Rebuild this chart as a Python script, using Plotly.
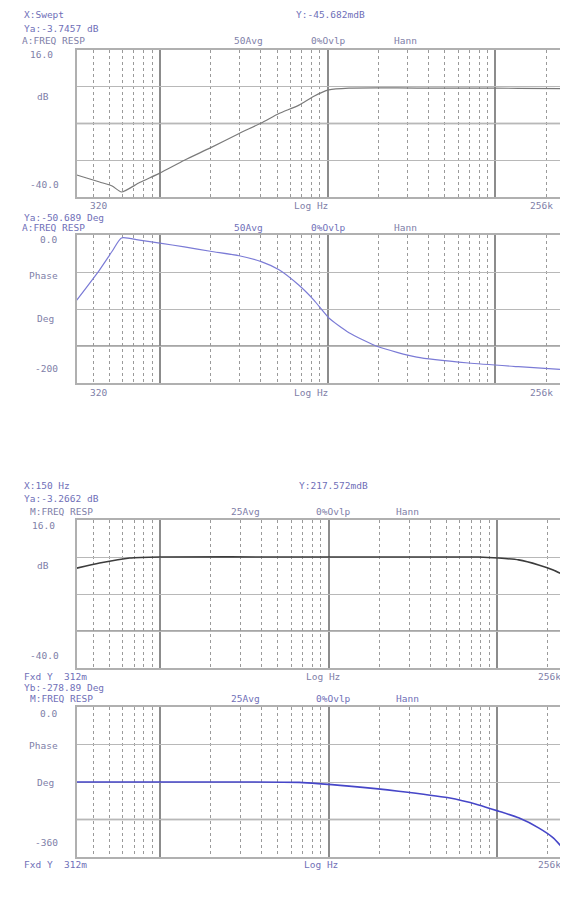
import math
import plotly.graph_objects as go

# page body has an 8 px margin; the figure is sized so the page needs no scrollbar
OFF = 8
W, H = 568 - OFF, 900 - 2 * OFF

# ---------------- data ----------------
freq_top = [320, 438, 520, 591, 757, 1000, 1400, 2000, 2970, 4020, 5130, 6750, 8280,
            10160, 13400, 20000, 34000, 69000, 137000, 256000]
mag_top_db = [-31.6, -34.3, -35.8, -38.1, -34.5, -30.9, -26.0, -21.3, -15.8, -11.8, -8.2,
              -5.0, -1.6, 0.8, 1.5, 1.6, 1.5, 1.5, 1.4, 1.3]
phase_top_deg = [-88, -47, -22, -4, -7, -11, -16, -22, -28, -36, -47, -68, -88,
                 -112, -132, -151, -165, -173, -178, -182]

freq_bot = [320, 437, 659, 1000, 6700, 13200, 26000, 51500, 77600, 102000, 134000,
            176000, 215000, 256000]
mag_bot_db = [-2.2, -0.3, 1.6, 2.0, 2.0, 2.0, 2.0, 2.0, 2.0, 1.6, 0.9, -1.0, -2.9, -5.2]
phase_bot_deg = [-180, -180, -180, -180, -181, -190, -202, -218, -235, -250, -266,
                 -290, -314, -348]

x_range_hz = [320, 256000]
decades = [1000, 10000, 100000]
minor_hz = [400, 500, 600, 700, 800, 900,
            2000, 3000, 4000, 5000, 6000, 7000, 8000, 9000,
            20000, 30000, 40000, 50000, 60000, 70000, 80000, 90000, 200000]

mag_range_db = [-40, 16]
phase_top_range = [-200, 0]
phase_bot_range = [-360, 0]

# ---------------- layout helpers (window pixel -> paper) ----------------
def px(xp):
    return (xp - OFF) / W

def py(yp):
    return 1 - (yp - OFF) / H

fig = go.Figure()

panels = [
    # (axis id, x px domain, y px domain, y range, dark grid index)
    ("1", (77, 566), (50, 197), mag_range_db, 2),
    ("2", (77, 566), (235, 383), phase_top_range, 3),
    ("3", (77, 568), (520, 668), mag_range_db, 3),
    ("4", (77, 568), (707, 857), phase_bot_range, 3),
]

series = [
    (freq_top, mag_top_db, "#7a7a7a", 1.2),
    (freq_top, phase_top_deg, "#7b7bd6", 1.2),
    (freq_bot, mag_bot_db, "#3c3c3c", 1.6),
    (freq_bot, phase_bot_deg, "#4646c8", 1.6),
]

for (aid, xd, yd, yr, dark_i), (fx, fy, col, lw) in zip(panels, series):
    xa = "x" if aid == "1" else "x" + aid
    ya = "y" if aid == "1" else "y" + aid
    fig.add_trace(go.Scatter(x=fx, y=fy, mode="lines", xaxis=xa, yaxis=ya,
                             line=dict(color=col, width=lw, shape="spline", smoothing=0.6),
                             showlegend=False, hoverinfo="skip"))
    xkey = "xaxis" if aid == "1" else "xaxis" + aid
    ykey = "yaxis" if aid == "1" else "yaxis" + aid
    step = (yr[1] - yr[0]) / 4
    yt = [yr[1] - step * k for k in range(1, 4)]   # top to bottom
    fig.update_layout(**{
        xkey: dict(type="log", range=[math.log10(x_range_hz[0]), math.log10(x_range_hz[1])],
                   domain=[px(xd[0]), min(1.0, px(xd[1]))], anchor=ya,
                   tickmode="array", tickvals=decades, showticklabels=False, ticks="",
                   showgrid=True, gridcolor="#8c8c8c", gridwidth=1.6,
                   minor=dict(tickmode="array", tickvals=minor_hz, showgrid=True,
                              gridcolor="#9a9a9a", griddash="dot", gridwidth=1, ticks=""),
                   showline=True, mirror=True, linecolor="#b0b0b0", linewidth=1.5,
                   zeroline=False, fixedrange=True),
        ykey: dict(range=yr, domain=[py(yd[1]), py(yd[0])], anchor=xa,
                   tickmode="array", tickvals=yt, showticklabels=False, ticks="",
                   showgrid=True, gridcolor="#b8b8b8", gridwidth=1,
                   showline=True, mirror=True, linecolor="#b0b0b0", linewidth=1.5,
                   zeroline=False, fixedrange=True),
    })
    # darker reference gridline
    fig.add_shape(type="line", xref="paper", yref=ya, x0=px(xd[0]), x1=min(1.0, px(xd[1])),
                  y0=yt[dark_i - 1], y1=yt[dark_i - 1],
                  line=dict(color="#8a8a8a", width=1.5), layer="below")

HDR = "#6f6fb8"
LBL = "#8080a8"
texts = [
    # panel 1
    ("X:Swept", 22, 15, HDR), ("Ya:-3.7457 dB", 22, 28, HDR), ("Y:-45.682mdB", 295, 15, HDR),
    ("A:FREQ RESP", 20, 41, LBL), ("50Avg", 233, 41, LBL), ("0%Ovlp", 310, 41, LBL),
    ("Hann", 393, 41, LBL),
    ("16.0", 28, 54, LBL), ("dB", 35, 97, LBL), ("-40.0", 28, 185, LBL),
    ("320", 88, 205, LBL), ("Log Hz", 293, 205, LBL), ("256k", 530, 205, LBL),
    # panel 2
    ("Ya:-50.689 Deg", 22, 217, HDR), ("A:FREQ RESP", 20, 227, HDR),
    ("50Avg", 233, 227, HDR), ("0%Ovlp", 310, 227, HDR), ("Hann", 393, 227, LBL),
    ("0.0", 38, 240, LBL), ("Phase", 27, 275, LBL), ("Deg", 35, 318, LBL), ("-200", 33, 368, LBL),
    ("320", 88, 392, LBL), ("Log Hz", 293, 392, LBL), ("256k", 530, 392, LBL),
    # panel 3
    ("X:150 Hz", 22, 485, HDR), ("Ya:-3.2662 dB", 22, 498, HDR), ("Y:217.572mdB", 298, 485, HDR),
    ("M:FREQ RESP", 28, 511, LBL), ("25Avg", 230, 511, LBL), ("0%Ovlp", 315, 511, LBL),
    ("Hann", 395, 511, LBL),
    ("16.0", 30, 525, LBL), ("dB", 35, 565, LBL), ("-40.0", 28, 655, LBL),
    ("Fxd Y  312m", 22, 676, HDR), ("Log Hz", 305, 676, LBL), ("256k", 538, 676, LBL),
    # panel 4
    ("Yb:-278.89 Deg", 22, 687, HDR), ("M:FREQ RESP", 28, 698, HDR), ("25Avg", 230, 698, HDR),
    ("0%Ovlp", 315, 698, HDR), ("Hann", 395, 698, HDR),
    ("0.0", 38, 713, LBL), ("Phase", 27, 745, LBL), ("Deg", 35, 782, LBL), ("-360", 33, 842, LBL),
    ("Fxd Y  312m", 22, 864, HDR), ("Log Hz", 303, 864, HDR), ("256k", 538, 864, LBL),
]
for t, xx, yy, c in texts:
    fig.add_annotation(text=t, xref="paper", yref="paper", x=px(xx), y=py(yy),
                       xanchor="left", yanchor="middle", showarrow=False,
                       font=dict(family="DejaVu Sans Mono", size=9.5, color=c))

fig.update_layout(width=W, height=H, margin=dict(l=0, r=0, t=0, b=0),
                  paper_bgcolor="white", plot_bgcolor="white")

fig.write_html("out.html")
